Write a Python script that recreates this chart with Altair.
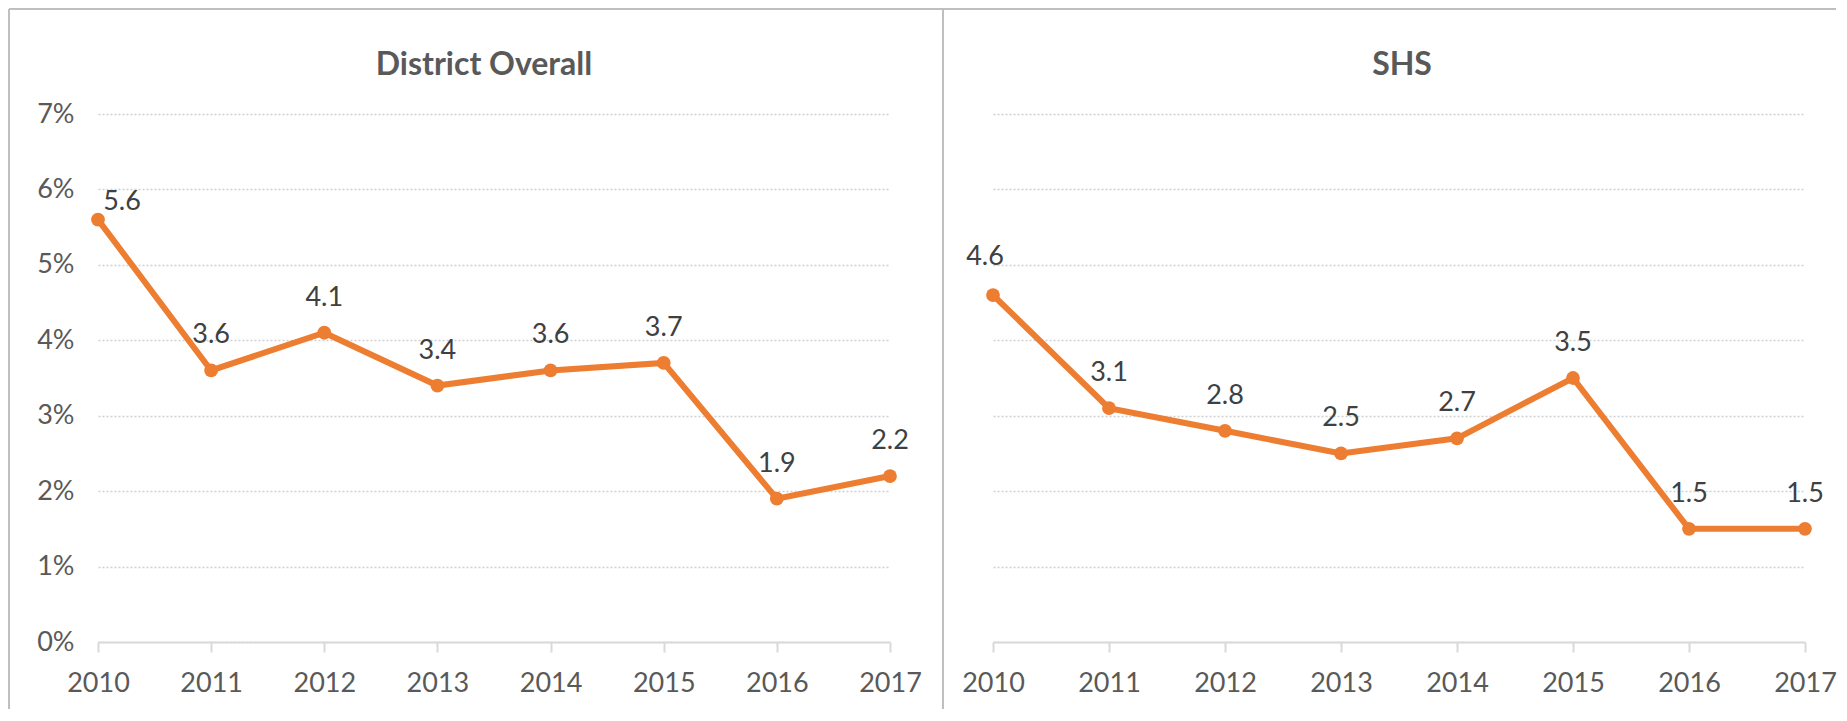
import altair as alt
import pandas as pd

years = [2010, 2011, 2012, 2013, 2014, 2015, 2016, 2017]
district = [5.6, 3.6, 4.1, 3.4, 3.6, 3.7, 1.9, 2.2]
shs = [4.6, 3.1, 2.8, 2.5, 2.7, 3.5, 1.5, 1.5]
y_ticks = [0, 1, 2, 3, 4, 5, 6, 7]
titles = ["District Overall", "SHS"]

ORANGE = "#ED7D31"
TEXT = "#595959"
LABEL = "#404040"
GRID = "#D0D0D0"
AXIS = "#D9D9D9"
BORDER = "#BFBFBF"
FONT = "Lato"
H = 528


def panel(values, title, show_y, width, title_x, first_dx, first_dy, borders):
    df = pd.DataFrame({"year": years, "value": values})
    x = alt.X(
        "year:O",
        scale=alt.Scale(type="point", padding=0),
        axis=alt.Axis(
            title=None, labelAngle=0, labelFontSize=27, labelColor=TEXT, labelFont=FONT,
            labelPadding=18, domainColor=AXIS, domainWidth=2, tickColor=AXIS,
            tickWidth=2, tickSize=10, grid=False,
        ),
    )
    if show_y:
        yaxis = alt.Axis(
            title=None, values=y_ticks, labelExpr="datum.value + '%'", labelFontSize=27,
            labelColor=TEXT, labelFont=FONT, labelPadding=24, domain=False, ticks=False,
            grid=True, gridColor=GRID, gridDash=[2, 2], gridWidth=1.5,
            minExtent=60, maxExtent=60,
        )
    else:
        yaxis = alt.Axis(
            title=None, values=y_ticks, labels=False, domain=False, ticks=False,
            grid=True, gridColor=GRID, gridDash=[2, 2], gridWidth=1.5,
        )
    y = alt.Y("value:Q", scale=alt.Scale(domain=[0, 7]), axis=yaxis)
    base = alt.Chart(df).encode(x=x, y=y)
    line = base.mark_line(color=ORANGE, strokeWidth=6)
    pts = base.mark_circle(color=ORANGE, size=190, opacity=1)
    lab = base.mark_text(dy=-35, fontSize=27, color=LABEL, font=FONT).encode(
        text=alt.Text("value:Q", format=".1f")
    ).transform_filter(alt.datum.year != years[0])
    lab0 = base.mark_text(dx=first_dx, dy=first_dy, fontSize=27, color=LABEL, font=FONT).encode(
        text=alt.Text("value:Q", format=".1f")
    ).transform_filter(alt.datum.year == years[0])
    one = pd.DataFrame({"k": [0]})
    ttl = alt.Chart(one).mark_text(
        fontSize=32, font=FONT, fontWeight="bold", color=TEXT, align="center",
        baseline="alphabetic",
    ).encode(x=alt.value(title_x), y=alt.value(-39), text=alt.value(title))
    layers = [line, pts, lab, lab0, ttl]
    for b in borders:
        layers.append(
            alt.Chart(one).mark_rule(color=BORDER, strokeWidth=2).encode(**b)
        )
    return alt.layer(*layers).properties(width=width, height=H)


left_borders = [
    dict(x=alt.value(-89), y=alt.value(-105), y2=alt.value(595)),
    dict(x=alt.value(-89), x2=alt.value(1738), y=alt.value(-105)),
    dict(x=alt.value(845), y=alt.value(-105), y2=alt.value(595)),
]

left = panel(district, titles[0], True, 792, 386, 24, -18, left_borders)
right = panel(shs, titles[1], False, 812, 409, -8, -38, [])

chart = alt.hconcat(left, right, spacing=103, bounds="flush").properties(
    padding=0
).configure(font=FONT, background="white").configure_view(strokeWidth=0, stroke="transparent")

chart.save("out.html", embed_options={"renderer": "svg", "actions": False})
